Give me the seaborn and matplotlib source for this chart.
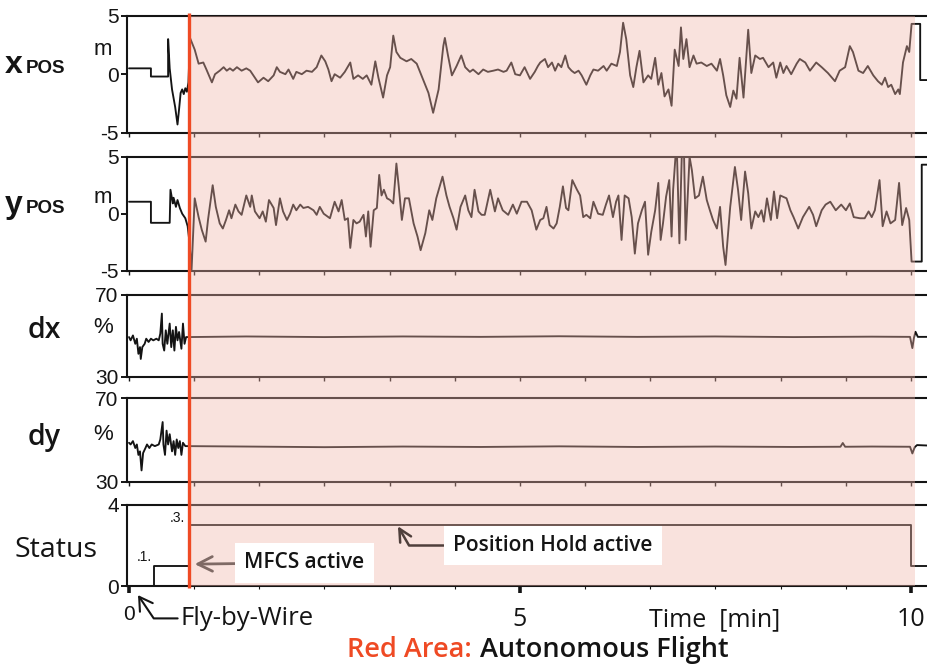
import numpy as np
import pandas as pd
import matplotlib
matplotlib.use("Agg")
import matplotlib.pyplot as plt
import seaborn as sns
from matplotlib.transforms import blended_transform_factory
from matplotlib.patches import Rectangle
from matplotlib.lines import Line2D
from matplotlib.ticker import FixedLocator, MultipleLocator

# ---------------------------------------------------------------- data
# x position [m] over time [min]
t_xpos = [0.00, 0.28, 0.28, 0.50, 0.50, 0.52, 0.55, 0.59, 0.62, 0.64, 0.66, 0.68, 0.70, 0.72, 0.74, 0.76,
          0.78, 0.84, 0.89, 0.95, 0.99, 1.06, 1.10, 1.16, 1.21, 1.25, 1.29, 1.33, 1.38, 1.44, 1.50, 1.55,
          1.59, 1.65, 1.72, 1.78, 1.85, 1.89, 1.93, 2.00, 2.04, 2.10, 2.14, 2.21, 2.27, 2.34, 2.40, 2.46,
          2.51, 2.55, 2.59, 2.63, 2.70, 2.76, 2.83, 2.87, 2.93, 2.99, 3.04, 3.10, 3.15, 3.19, 3.25, 3.30,
          3.34, 3.38, 3.42, 3.47, 3.55, 3.61, 3.68, 3.74, 3.83, 3.89, 3.96, 4.02, 4.04, 4.08, 4.13, 4.19,
          4.25, 4.30, 4.36, 4.40, 4.47, 4.53, 4.59, 4.66, 4.72, 4.79, 4.83, 4.89, 4.94, 5.00, 5.06, 5.13,
          5.19, 5.23,
          5.26, 5.32, 5.36, 5.41, 5.45, 5.49, 5.53, 5.58, 5.62, 5.66, 5.70, 5.75, 5.79, 5.85, 5.90, 5.94,
          6.00, 6.07, 6.11, 6.17, 6.24, 6.28, 6.32, 6.36, 6.41, 6.45, 6.49, 6.53, 6.58, 6.64, 6.68, 6.73,
          6.77, 6.81, 6.85, 6.90, 6.94, 6.98, 7.03, 7.06, 7.09, 7.13, 7.17, 7.22, 7.26, 7.32, 7.39, 7.45,
          7.52, 7.56, 7.60, 7.64, 7.69, 7.73, 7.77, 7.81, 7.86, 7.92, 7.96, 8.01, 8.07, 8.11, 8.18, 8.24,
          8.28, 8.33, 8.37, 8.41, 8.47, 8.54, 8.58, 8.65, 8.71, 8.79, 8.86, 8.94, 9.03, 9.09, 9.16, 9.22,
          9.26, 9.33, 9.39, 9.45, 9.52, 9.58, 9.63, 9.67, 9.71, 9.75, 9.80, 9.84, 9.86, 9.90, 9.95, 9.98,
          10.01, 10.12, 10.12, 10.40]
xpos_m = [0.5, 0.5, -0.2, -0.2, 3.0, 0.5, -1.3, -2.8, -4.3, -3.0, -1.6, -1.3, -1.7, -1.2, -1.5, -0.7,
          3.1, 2.1, 0.9, 1.0, 0.4, -0.7, 0.0, 0.3, 0.6, 0.3, 0.5, 0.3, 0.6, 0.3, 0.5, 0.3,
          -0.1, -0.7, -0.3, -0.6, -0.1, 0.6, 0.2, 0.0, 0.4, -0.4, 0.2, 0.0, 0.3, 0.2, 0.6, 1.6,
          1.1, 0.4, -0.6, 0.0, -0.3, 0.2, 1.0, -0.4, -0.1, -0.4, -0.1, -0.9, 1.1, -0.3, -2.0, -0.1,
          0.6, 3.3, 1.9, 1.4, 1.1, 1.3, 0.9, -0.1, -1.6, -3.3, -1.3, 2.4, 3.1, 1.6, -0.1, 0.7,
          1.6, 0.6, 0.2, 0.4, 0.0, 0.4, 0.2, 0.3, 0.4, 0.2, 0.3, 1.0, 0.0, -0.1, 0.6, -0.4,
          0.2, 0.7,
          1.0, 1.3, 0.6, 1.0, 0.3, 0.9, 0.6, 1.6, 0.6, 0.3, 0.1, 0.3, -0.1, -0.9, -0.1, 0.4,
          0.3, 0.7, 0.3, 0.9, 0.7, 1.9, 4.4, 3.0, -0.1, -1.1, 0.6, 2.0, -0.7, -0.1, -0.4, 1.4,
          -0.9, 0.1, -1.9, -1.3, -2.7, 2.1, 0.7, 4.0, 1.3, 3.0, 0.6, 1.6, 0.9, 1.0, 0.7, 0.9,
          0.3, 1.3, -0.1, -1.8, -2.8, -1.4, -2.1, 1.4, -2.0, 3.8, 0.1, 1.6, 1.3, 1.4, 0.6, 1.0,
          -0.3, 1.0, 0.1, 0.7, 0.0, 0.9, 1.3, 1.0, 0.3, 1.0, 0.6, 0.1, -0.6, 0.3, 0.6, 2.4,
          1.9, 0.3, 0.1, 0.7, -0.1, -0.6, -0.9, -0.3, -1.1, -0.9, -1.7, -1.3, -1.7, 1.0, 2.4, 1.9,
          4.3, 4.3, -0.5, -0.5]

# y position [m] over time [min]
t_ypos = [0.00, 0.28, 0.28, 0.52, 0.53, 0.56, 0.57, 0.60, 0.62, 0.65, 0.68, 0.72, 0.75, 0.77,
          0.80, 0.84, 0.89, 0.93, 0.98, 1.01, 1.07, 1.11, 1.16, 1.20, 1.24, 1.28, 1.31, 1.36, 1.40, 1.44,
          1.50, 1.55, 1.57, 1.61, 1.67, 1.71, 1.75, 1.79, 1.85, 1.88, 1.93, 1.97, 2.02, 2.06, 2.10, 2.14,
          2.19, 2.23, 2.29, 2.36, 2.40, 2.44, 2.49, 2.57, 2.63, 2.68, 2.72, 2.76, 2.80, 2.83, 2.87, 2.91,
          2.95, 3.00, 3.03, 3.06, 3.09, 3.13, 3.17, 3.20, 3.23, 3.26, 3.30, 3.34, 3.38, 3.42, 3.45, 3.49,
          3.53, 3.58, 3.64, 3.69, 3.73, 3.79, 3.84, 3.88, 3.93, 4.01, 4.06, 4.10, 4.15, 4.19, 4.24, 4.30,
          4.34, 4.38, 4.42, 4.47, 4.51, 4.55, 4.62, 4.68, 4.72, 4.78, 4.85, 4.91, 4.96, 5.02, 5.09, 5.15,
          5.21,
          5.26, 5.30, 5.34, 5.38, 5.43, 5.47, 5.51, 5.55, 5.59, 5.62, 5.67, 5.73, 5.77, 5.81, 5.85, 5.90,
          5.94, 6.00, 6.06, 6.10, 6.14, 6.19, 6.23, 6.26, 6.30, 6.34, 6.39, 6.43, 6.47, 6.51, 6.56, 6.60,
          6.64, 6.68, 6.73, 6.77, 6.80, 6.83, 6.87, 6.91, 6.94, 6.96, 6.99, 7.01, 7.04, 7.07, 7.10, 7.12,
          7.17, 7.20, 7.24, 7.29, 7.34, 7.39, 7.43, 7.47, 7.52, 7.56, 7.60, 7.63, 7.69, 7.75, 7.79, 7.83,
          7.88, 7.92, 7.96, 8.01, 8.05, 8.09, 8.12, 8.16, 8.21, 8.25, 8.29, 8.33, 8.41, 8.46, 8.50, 8.56,
          8.62, 8.70, 8.75, 8.79, 8.86, 8.91, 8.97, 9.04, 9.11, 9.17, 9.22, 9.27, 9.35, 9.41, 9.46, 9.50,
          9.54, 9.60, 9.64, 9.69, 9.74, 9.80, 9.85, 9.89, 9.94, 9.98,
          10.01, 10.14, 10.14, 10.40]
ypos_m = [1.05, 1.05, -0.8, -0.8, 2.1, 0.9, 1.4, 0.6, 1.2, 0.5, 0.0, -0.4, -1.1, -2.3,
          -4.9, 1.35, -0.3, -1.4, -2.45, -0.55, 2.5, 0.6, -0.85, -1.3, -0.55, 0.3, -0.4, 0.8, 0.2, -0.1,
          1.6, 0.6, 1.6, 0.2, -0.4, 0.2, -0.7, 1.2, 0.5, -1.0, 1.35, 0.2, -0.55, 0.0, 0.8, 0.3,
          0.8, 0.5, 0.6, 0.3, -0.1, 0.6, 0.0, -0.4, 1.05, 0.2, 1.2, -0.55, -0.4, -3.0, -0.55, -0.85,
          -0.7, -0.1, -2.0, 0.2, -2.9, 0.3, 0.5, 3.4, 1.6, 2.1, 1.35, 1.2, 0.9, 4.4, 2.4, -0.55,
          1.35, 1.35, -0.85, -2.0, -3.2, -1.7, 0.3, -0.55, 1.35, 3.25, 1.6, 0.6, -0.4, -1.4, 0.6, 1.6,
          0.3, -0.3, 2.1, 0.2, -0.1, -0.1, 2.1, 0.2, 1.35, 0.3, -0.1, 0.8, 0.0, 1.05, 1.05, 0.3,
          -1.4,
          -0.55, -0.4, 0.6, -1.0, -1.3, -0.85, 0.6, 2.4, 0.5, 0.3, 2.95, 2.1, 1.6, -0.3, -0.1, -0.4,
          1.05, 0.0, -0.1, 0.8, 1.6, -0.3, 1.05, 1.6, -2.3, 1.6, 1.35, -0.3, -3.5, -0.85, 0.3, 1.05,
          -3.6, -1.6, 0.3, 2.7, -2.3, -0.85, 1.5, 2.95, -2.0, 2.1, 5.0, 5.0, -2.6, 5.0, 5.0, -2.3,
          5.0, 3.8, 1.35, 1.6, 3.25, 1.2, 0.3, -0.55, -1.3, 0.6, -2.9, -4.5, 0.6, 4.1, 2.1, -0.55,
          3.7, 1.8, -1.3, 0.2, -0.3, 0.3, -0.7, 1.35, -0.55, 1.95, -0.4, 1.6, 1.35, 0.3, -0.3, -1.3,
          -0.3, 0.6, -0.1, -1.1, 0.3, 0.8, 1.05, 0.3, 0.8, 0.3, 0.9, -0.3, -0.4, -0.4, 0.2, -0.3,
          0.3, 2.95, -1.1, 0.2, -0.85, -0.55, 2.7, -1.0, 0.5, -0.55,
          -4.2, -4.2, 4.3, 4.3]

# thrust command dx [%]
t_dx = [0.00, 0.02, 0.05, 0.08, 0.10, 0.12, 0.14, 0.15, 0.17, 0.20, 0.22, 0.25, 0.28, 0.31, 0.35, 0.38,
        0.40, 0.42, 0.43, 0.45, 0.47, 0.49, 0.52, 0.54, 0.56, 0.58, 0.60, 0.62, 0.64, 0.67, 0.69, 0.71,
        0.73, 0.76,
        1.50, 2.50, 3.50, 4.50, 5.50, 6.50, 7.50, 8.50, 9.50, 9.99, 10.02, 10.04, 10.06, 10.09, 10.40]
dx_pct = [49.4, 47.8, 50.2, 46.1, 48.6, 41.2, 44.5, 38.7, 44.5, 46.1, 48.6, 47.0, 48.6, 47.8, 48.6, 47.8,
          51.1, 60.9, 46.1, 42.8, 52.7, 46.1, 56.0, 44.5, 52.7, 42.8, 54.4, 47.8, 51.9, 43.7, 56.0, 46.1,
          49.4, 49.4,
          49.7, 49.4, 49.7, 49.5, 49.8, 49.5, 49.7, 49.4, 49.6, 49.5, 44.0, 49.0, 52.0, 49.5, 49.5]

# thrust command dy [%]
t_dy = [0.00, 0.02, 0.05, 0.08, 0.10, 0.12, 0.14, 0.16, 0.18, 0.21, 0.23, 0.26, 0.29, 0.33, 0.38, 0.40,
        0.43, 0.44, 0.46, 0.48, 0.50, 0.52, 0.55, 0.57, 0.59, 0.61, 0.63, 0.65, 0.67, 0.69, 0.72, 0.76,
        1.50, 2.50, 3.50, 4.50, 5.50, 6.50, 7.50, 8.50, 9.10, 9.13, 9.16, 9.50, 9.99, 10.02, 10.05, 10.08,
        10.40]
dy_pct = [48.6, 47.8, 49.4, 46.1, 47.8, 42.8, 44.5, 35.4, 43.7, 46.1, 47.8, 46.1, 47.8, 47.0, 47.8, 50.2,
          58.5, 47.8, 42.8, 54.4, 47.8, 52.7, 44.5, 49.4, 42.8, 50.2, 46.1, 49.4, 42.8, 48.6, 47.0, 47.0,
          46.8, 46.5, 46.8, 46.6, 46.9, 46.6, 46.8, 46.6, 46.7, 48.5, 46.7, 46.8, 46.7, 43.5, 46.5, 47.5,
          47.0]

# flight status level
t_status = [0.0, 0.32, 0.32, 0.77, 0.77, 10.0, 10.0, 10.4]
status_level = [0, 0, 1, 1, 3, 3, 1, 1]

y_limits = [(-5, 5), (-5, 5), (30, 70), (30, 70), (0, 4)]
y_ticks = [[-5, 0, 5], [-5, 0, 5], [30, 70], [30, 70], [0, 4]]
y_ticklabels = [["-5", "0", "5"], ["-5", "0", "5"], ["30", "70"], ["30", "70"], ["0", "4"]]
unit_labels = ["m", "m", "%", "%", None]
x_ticks = [0, 5, 10]
x_ticklabels = ["0", "5", "10"]
autonomous_start = 0.77
autonomous_end = 10.05

# ---------------------------------------------------------------- style
sns.set_theme(style="white")
plt.rcParams["font.family"] = ["Liberation Sans", "DejaVu Sans"]
CAL = ["Open Sans", "DejaVu Sans"]
INK = "#141414"
RED = "#ef4a24"

W, H = 928, 667
fig = plt.figure(figsize=(W / 100, H / 100), dpi=100)

# panel boxes (top, bottom) in pixels
panel_px = [(15.7, 132.7), (156.7, 270.7), (295.0, 376.7), (398.0, 481.7), (505.0, 586.0)]
left_px = 127
axes = []
for top, bot in panel_px:
    ax = fig.add_axes([left_px / W, 1 - bot / H, 1 - left_px / W, (bot - top) / H])
    axes.append(ax)

series = [(t_xpos, xpos_m), (t_ypos, ypos_m), (t_dx, dx_pct), (t_dy, dy_pct), (t_status, status_level)]
for i, (ax, (t, v)) in enumerate(zip(axes, series)):
    df = pd.DataFrame({"t": t, "v": v})
    sns.lineplot(data=df, x="t", y="v", ax=ax, color=INK, lw=1.35,
                 estimator=None, sort=False, errorbar=None)
    ax.set_xlim(-0.026, 10.22)
    ax.set_ylim(*y_limits[i])
    ax.set_xlabel("")
    ax.set_ylabel("")
    ax.set_facecolor("white")
    for s in ["top", "bottom", "left"]:
        ax.spines[s].set_visible(True)
        ax.spines[s].set_color(INK)
        ax.spines[s].set_linewidth(1.5)
    ax.spines["right"].set_visible(False)
    ax.yaxis.set_major_locator(FixedLocator(y_ticks[i]))
    ax.set_yticklabels(y_ticklabels[i])
    ax.tick_params(axis="y", left=True, direction="out", length=4, width=1.4,
                   pad=2, labelsize=15, colors=INK)
    if i < 4:
        ax.xaxis.set_major_locator(MultipleLocator(5 / 6))
        ax.tick_params(axis="x", bottom=True, direction="out", length=3, width=1.0,
                       labelbottom=False, colors=INK)
    else:
        ax.xaxis.set_major_locator(FixedLocator(x_ticks))
        ax.xaxis.set_minor_locator(MultipleLocator(5 / 6))
        ax.tick_params(axis="x", which="major", bottom=True, direction="out", length=5,
                       width=2.6, labelbottom=False, colors=INK)
        ax.tick_params(axis="x", which="minor", bottom=True, direction="out", length=2,
                       width=0.8, colors=INK)
    if unit_labels[i]:
        ypos = [0.715, 0.642, 0.60, 0.56][i]
        ax.text(-0.030, ypos, unit_labels[i], transform=ax.transAxes, ha="center",
                va="center", fontsize=16, color=INK)

ax_st = axes[-1]
ax_st.text(0.20, 1.45, ".1.", ha="center", va="center", fontsize=10, color=INK)
ax_st.text(0.62, 3.35, ".3.", ha="center", va="center", fontsize=10, color=INK)

# ---------------------------------------------------------------- overlay
ov = fig.add_axes([0, 0, 1, 1], zorder=10)
ov.set_axis_off()
blend = blended_transform_factory(ax_st.transData, fig.transFigure)
y_bot = ax_st.get_position().y0
y_top = axes[0].get_position().y1
ov.add_patch(Rectangle((autonomous_start, y_bot), autonomous_end - autonomous_start, y_top - y_bot,
                       transform=blend, facecolor="#f0b4a8", alpha=0.38, edgecolor="none", zorder=1))
ov.add_line(Line2D([autonomous_start, autonomous_start], [y_bot - 0.003, y_top + 0.004],
                   transform=blend, color=RED, lw=2.4, zorder=3, solid_capstyle="butt"))
ov.set_xlim(0, 1)
ov.set_ylim(0, 1)

box = dict(boxstyle="square,pad=0.45", fc="white", ec="none")
ov.annotate("MFCS active", xy=(0.84, 1.08), xycoords=ax_st.transData,
            xytext=(2.24, 1.15), textcoords=ax_st.transData, ha="center", va="center",
            fontsize=15, family=CAL, weight="semibold", color=INK, bbox=box, zorder=4,
            arrowprops=dict(arrowstyle="->,head_length=0.7,head_width=0.35", color="#7f6a65",
                            lw=2.0, shrinkA=0, shrinkB=0))
ov.annotate("Position Hold active", xy=(3.44, 2.95), xycoords=ax_st.transData,
            xytext=(5.42, 2.0), textcoords=ax_st.transData, ha="center", va="center",
            fontsize=15, family=CAL, weight="semibold", color=INK, bbox=box, zorder=4,
            arrowprops=dict(arrowstyle="->,head_length=0.6,head_width=0.3", color="#4f3f3b",
                            lw=1.8, shrinkA=0, shrinkB=0,
                            connectionstyle="angle,angleA=0,angleB=-60,rad=0"))
ov.annotate("Fly-by-Wire", xy=(0.115, -0.45), xycoords=ax_st.transData,
            xytext=(1.515, -1.6), textcoords=ax_st.transData, ha="center", va="center",
            fontsize=18.5, family=CAL, color=INK, zorder=4,
            arrowprops=dict(arrowstyle="->,head_length=0.5,head_width=0.3", color=INK,
                            lw=1.5, shrinkA=0, shrinkB=0,
                            connectionstyle="angle,angleA=0,angleB=-56,rad=0"))

# x tick labels and axis title
ov.text(x_ticks[0], 0.0705, x_ticklabels[0], transform=blend, ha="center", va="baseline",
        fontsize=15, color=INK)
for xt, lab in zip(x_ticks[1:], x_ticklabels[1:]):
    ov.text(xt, 0.0615, lab, transform=blend, ha="center", va="baseline",
            fontsize=18, family=CAL, color=INK)
ov.text(7.49, 0.0615, "Time  [min]", transform=blend, ha="center", va="baseline",
        fontsize=18, family=CAL, color=INK)

# caption
ov.text(472 / W, 1 - 657 / H, "Red Area:", ha="right", va="baseline", fontsize=19.5,
        family=CAL, weight="semibold", color=RED, transform=fig.transFigure)
ov.text(480 / W, 1 - 657 / H, "Autonomous Flight", ha="left", va="baseline", fontsize=19.5,
        family=CAL, weight="semibold", color=INK, transform=fig.transFigure)

# left panel names
for big, small, base in [("x", "POS", 73), ("y", "POS", 213)]:
    fig.text(5 / W, 1 - base / H, big, fontsize=23, weight="bold", va="baseline", color=INK)
    fig.text(26 / W, 1 - base / H, small, fontsize=13.5, weight="bold", va="baseline", color=INK)
fig.text(28 / W, 1 - 338 / H, "dx", fontsize=20.5, family=CAL, weight="semibold",
         va="baseline", color=INK)
fig.text(28 / W, 1 - 445 / H, "dy", fontsize=20.5, family=CAL, weight="semibold",
         va="baseline", color=INK)
fig.text(15 / W, 1 - 557 / H, "Status", fontsize=20.5, family=CAL, va="baseline", color=INK)

fig.savefig("out.png", dpi=100)
